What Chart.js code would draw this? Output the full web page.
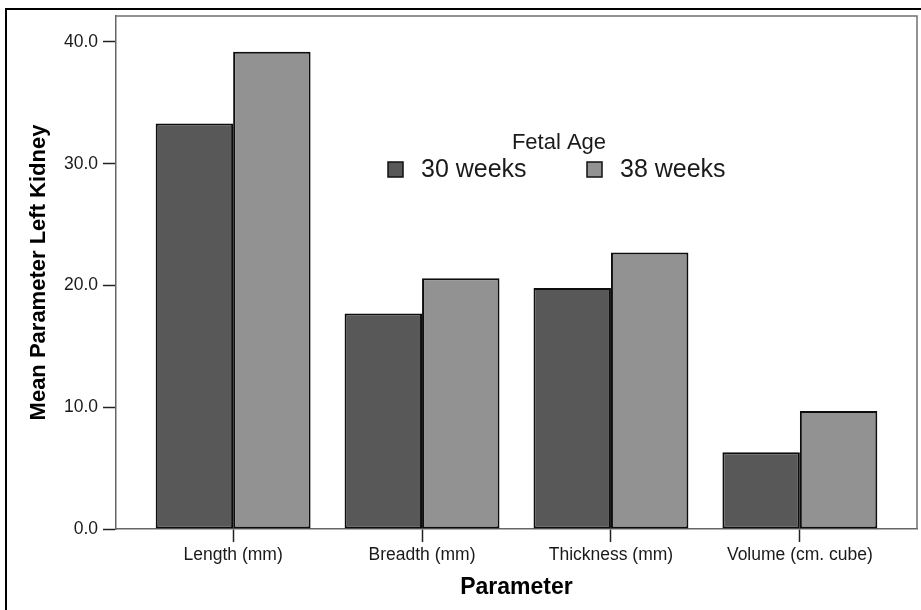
<!DOCTYPE html>
<html><head><meta charset="utf-8">
<script src="https://cdn.jsdelivr.net/npm/chart.js@4.4.0/dist/chart.umd.min.js"></script>
<style>html,body{margin:0;padding:0;background:#fff;}#wrap{width:921px;height:610px;position:relative;}</style>
</head><body><div id="wrap"><canvas id="c" width="921" height="610"></canvas></div>
<script>
const categories = ['Length (mm)', 'Breadth (mm)', 'Thickness (mm)', 'Volume (cm. cube)'];
const seriesNames = ['30 weeks', '38 weeks'];
const values30 = [33.3, 17.7, 19.8, 6.3];
const values38 = [39.2, 20.6, 22.7, 9.7];
const yTickValues = [0, 10, 20, 30, 40];
const legendTitle = 'Fetal Age';
const xTitle = 'Parameter';
const yTitle = 'Mean Parameter Left Kidney';

const FONT = "'Liberation Sans', Arial, sans-serif";
const TXT = '#1a1a1a';

const framePlugin = {
  id: 'frame',
  afterDraw(chart) {
    const {ctx, chartArea: a} = chart;
    ctx.save();
    ctx.strokeStyle = '#707070';
    ctx.lineWidth = 1.5;
    ctx.beginPath();
    ctx.moveTo(a.left, a.top);
    ctx.lineTo(a.right, a.top);
    ctx.lineTo(a.right, a.bottom);
    ctx.stroke();
    ctx.strokeStyle = '#000';
    ctx.lineWidth = 2;
    ctx.beginPath();
    ctx.moveTo(6, 610);
    ctx.lineTo(6, 9);
    ctx.lineTo(921, 9);
    ctx.stroke();
    const ds = chart.data.datasets;
    ctx.fillStyle = TXT;
    ctx.textBaseline = 'alphabetic';
    ctx.textAlign = 'center';
    ctx.font = '22px ' + FONT;
    ctx.fillText(legendTitle, a.left + 443, a.top + 133);
    const boxX = [a.left + 272, a.left + 471];
    ctx.textAlign = 'left';
    ctx.font = '25px ' + FONT;
    ds.forEach((d, i) => {
      ctx.fillStyle = d.backgroundColor;
      ctx.fillRect(boxX[i], a.top + 146, 15, 15);
      ctx.strokeStyle = '#111';
      ctx.lineWidth = 1.5;
      ctx.strokeRect(boxX[i], a.top + 146, 15, 15);
      ctx.fillStyle = TXT;
      ctx.fillText(d.label, boxX[i] + 33, a.top + 161);
    });
    ctx.restore();
  }
};

new Chart(document.getElementById('c'), {
  type: 'bar',
  data: {
    datasets: [
      {label: seriesNames[0], data: values30.map((v, i) => ({x: i, y: v})), backgroundColor: '#585858', borderColor: '#0d0d0d', borderWidth: 2, borderSkipped: false},
      {label: seriesNames[1], data: values38.map((v, i) => ({x: i, y: v})), backgroundColor: '#929292', borderColor: '#0d0d0d', borderWidth: 2, borderSkipped: false}
    ]
  },
  options: {
    responsive: false,
    animation: false,
    devicePixelRatio: 1,
    layout: {padding: {top: 16, right: 4, left: 0, bottom: 0}},
    categoryPercentage: 0.82,
    barPercentage: 1.0,
    plugins: {legend: {display: false}, tooltip: {enabled: false}},
    scales: {
      x: {
        type: 'linear',
        offset: false,
        min: -0.62,
        max: 3.62,
        afterBuildTicks(scale) { scale.ticks = categories.map((c, i) => ({value: i})); },
        afterFit(scale) { scale.height = 81; },
        ticks: {
          autoSkip: false, maxRotation: 0, padding: 3,
          color: TXT, font: {family: FONT, size: 17.5},
          callback: (v) => categories[v]
        },
        grid: {display: true, offset: false, drawOnChartArea: false, drawTicks: true, tickLength: 13, tickColor: '#222', tickWidth: 1.5},
        border: {display: true, color: '#666', width: 1.5},
        title: {display: true, text: xTitle, color: '#000', font: {family: FONT, size: 23, weight: 'bold'}, padding: {top: 0, bottom: 9}}
      },
      y: {
        min: 0,
        max: 42.13,
        afterBuildTicks(scale) { scale.ticks = yTickValues.map(v => ({value: v})); },
        afterFit(scale) { scale.width = 116; },
        ticks: {
          padding: 5, color: TXT, font: {family: FONT, size: 17.5},
          callback: (v) => Number(v).toFixed(1)
        },
        grid: {display: true, drawOnChartArea: false, drawTicks: true, tickLength: 13, tickColor: '#222', tickWidth: 1.5},
        border: {display: true, color: '#666', width: 1.5},
        title: {display: true, text: yTitle, color: '#000', font: {family: FONT, size: 22, weight: 'bold'}, padding: {top: 26, bottom: 0}}
      }
    }
  },
  plugins: [framePlugin]
});
</script>
</body></html>
